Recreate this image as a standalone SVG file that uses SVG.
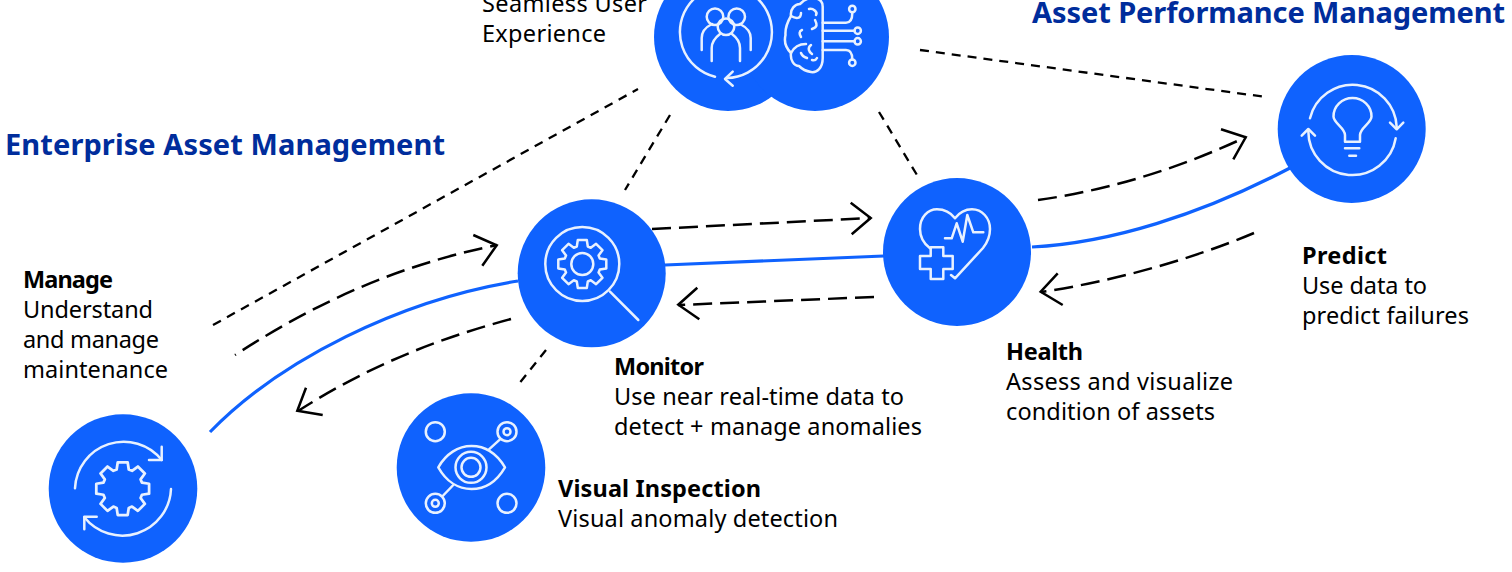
<svg xmlns="http://www.w3.org/2000/svg" xmlns:xlink="http://www.w3.org/1999/xlink" width="1512" height="572" viewBox="0 0 1512 572">
<style>
text{font-family:"Noto Sans","Open Sans",sans-serif;font-size:23.5px;fill:#000}
.b{font-weight:700}
.t{font-weight:700;font-size:29px;fill:#002d9c}
.disc{fill:#0f62fe}
.ic{fill:none;stroke:#e8f1ff;stroke-width:2.5;stroke-linecap:round;stroke-linejoin:round}
.ic use,.ic path,.ic circle,.ic line{vector-effect:non-scaling-stroke}
.flow{fill:none;stroke:#0f62fe;stroke-width:3.2}
.thin{fill:none;stroke:#000;stroke-width:2.3;stroke-dasharray:9 7}
.dash{fill:none;stroke:#000;stroke-width:2.5;stroke-dasharray:19 8}
.head{fill:none;stroke:#000;stroke-width:2.5}
</style>
<defs>
<path id="gear" d="M-4.5,-24L4.5,-24L5.5,-17.5L8.49,-16.26L13.79,-20.15L20.15,-13.79L16.26,-8.49L17.5,-5.5L24,-4.5L24,4.5L17.5,5.5L16.26,8.49L20.15,13.79L13.79,20.15L8.49,16.26L5.5,17.5L4.5,24L-4.5,24L-5.5,17.5L-8.49,16.26L-13.79,20.15L-20.15,13.79L-16.26,8.49L-17.5,5.5L-24,4.5L-24,-4.5L-17.5,-5.5L-16.26,-8.49L-20.15,-13.79L-13.79,-20.15L-8.49,-16.26L-5.5,-17.5Z"/>
</defs>
<rect width="1512" height="572" fill="#fff"/>
<g id="connectors">
<path class="flow" d="M210,432C280,360 400,300 518,281"/>
<path class="flow" d="M665,265L884,256"/>
<path class="flow" d="M1032,247C1110,243 1200,215 1290,168"/>
<path class="thin" d="M213,325L638,89"/>
<path class="thin" d="M670,115L625,190"/>
<path class="thin" d="M879,112L917,175"/>
<path class="thin" d="M920,50L1266,97"/>
<path class="thin" d="M546,350L518,385"/>
<path class="dash" stroke-dashoffset="18" d="M235,355C320,300 400,265 497,245"/>
<path class="head" d="M473.3,235L496.7,245.3L482.3,265.7"/>
<path class="dash" d="M511,319C440,338 370,365 298,411"/>
<path class="head" d="M306,387.7L297.3,410.7L322.7,415"/>
<path class="dash" d="M652,229L871,218"/>
<path class="head" d="M850.7,202.7L870.7,218L851.7,234.3"/>
<path class="dash" d="M874,297L678,305"/>
<path class="head" d="M697.3,287.7L678.3,304.7L699.3,319.3"/>
<path class="dash" d="M1038,200C1110,190 1180,168 1246,137"/>
<path class="head" d="M1221,129.3L1245.7,137.3L1233.3,159.3"/>
<path class="dash" d="M1254,233C1190,260 1110,282 1041,292"/>
<path class="head" d="M1057.7,273.3L1040.7,291.7L1062.7,305"/>
</g>
<g id="title-eam"><text class="t" x="5" y="155" textLength="440">Enterprise Asset Management</text></g>
<g id="title-apm"><text class="t" x="1032" y="23" textLength="473">Asset Performance Management</text></g>
<g id="node-experience">
<circle class="disc" cx="728" cy="37" r="74"/>
<circle class="disc" cx="815" cy="37" r="74"/>
<g class="ic">
<path d="M715,76.7A46,46 0 1 1 727,78"/>
<path d="M732.7,71.7L725,79L732.7,85.7"/>
<circle cx="726" cy="26.7" r="8.3"/>
<circle cx="715" cy="16.7" r="8.3"/>
<circle cx="736.7" cy="16.7" r="8.3"/>
<path d="M711.7,61V48C711.7,41 716,37 720,34M740,61V48C740,41 736,37 732,34"/>
<path d="M701.7,50V38C701.7,32 706,27 712,24M750.7,50V38C750.7,32 746,27 740,24"/>
<path d="M822.7,6.7V58C822.7,68 817,73 811,72C805,71 802,69 799,66C794,66 790,60 791,53C786,48 784,41 785.5,35C785,28 788,21 791,16C790,9 795,4 800,4C804,0 808,-2 812,-2C818,-2 822.7,0 822.7,6.7"/>
<path d="M791,53C794,47 800,44 806,44M791,16C796,19 801,19 801,13"/>
<path d="M809,9C813,8 818,12 816,15M815,20C817,24 818,27 812,29M802,30C799,31 799,34 801,37M811,45C807,48 809,52 812,54M801,53C802,56 804,57 807,58M812,60C815,61 816,60 817,58"/>
<path d="M822.7,22.7H846C850,22.7 852.3,20 852.3,13"/>
<path d="M822.7,30.7H854.7M822.7,41.3H854.7"/>
<path d="M822.7,50H846C850,50 852.3,53 852.3,59.5"/>
<circle cx="852.3" cy="9" r="3.2"/><circle cx="857.7" cy="30.7" r="3.2"/><circle cx="857.7" cy="41.3" r="3.2"/><circle cx="852.3" cy="62.7" r="3.2"/>
</g>
<text x="482" y="12" textLength="165">Seamless User</text>
<text x="482" y="42" textLength="124">Experience</text>
</g>
<g id="node-predict">
<circle class="disc" cx="1351.7" cy="129" r="74"/>
<g class="ic">
<path d="M1310,118.3A44,44 0 0 1 1396.7,127"/>
<path d="M1390,122.7L1396.7,129.3L1403.3,122.7"/>
<path d="M1395.7,138.3A44,44 0 0 1 1308.3,131"/>
<path d="M1301.7,135.7L1308.3,129L1315,135.7"/>
<path d="M1345,141.7V135C1345,128 1333.5,123 1333.5,116.5A19,18.5 0 0 1 1371.5,116.5C1371.5,123 1360,128 1360,135V141.7Z"/>
<path d="M1345,148.3H1359.3M1349.3,155.7H1356"/>
</g>
<text class="b" x="1302" y="264" textLength="85">Predict</text>
<text x="1302" y="294" textLength="125">Use data to</text>
<text x="1302" y="324" textLength="167">predict failures</text>
</g>
<g id="node-health">
<circle class="disc" cx="957" cy="252" r="74"/>
<g class="ic">
<path d="M930,248.3C923,243 920,237 920,229C920,217 928,209.3 937,209.3C945,209.3 951,213 955,218.3C959,213 965,209.3 972,209.3C982,209.3 990,218 990,229C990,237 987,243 983,248L955,278.3L951,275"/>
<path d="M930.7,247.3H943.3V256H952.7V269H943.3V279H930.7V269H920V256H930.7Z"/>
<path d="M945,238.3H951.7L956.7,223.3L962.7,241.7L967.3,215L973.3,232.3H983.3"/>
</g>
<text class="b" x="1006" y="360" textLength="77">Health</text>
<text x="1006" y="390" textLength="227">Assess and visualize</text>
<text x="1006" y="420" textLength="209">condition of assets</text>
</g>
<g id="node-monitor">
<circle class="disc" cx="591.7" cy="273.3" r="74"/>
<g class="ic">
<circle cx="582.3" cy="264" r="37"/>
<line x1="610" y1="291.7" x2="638.3" y2="320"/>
<use href="#gear" x="582.3" y="264"/>
<circle cx="582.3" cy="264" r="11"/>
</g>
<text class="b" x="614" y="375" textLength="90">Monitor</text>
<text x="614" y="405" textLength="290">Use near real-time data to</text>
<text x="614" y="435" textLength="308">detect + manage anomalies</text>
</g>
<g id="node-visual">
<circle class="disc" cx="471" cy="467.5" r="74.3"/>
<g class="ic">
<path d="M438.3,467.3C446,454 458,446 471.5,446C485,446 497,454 505,467.3C497,481 485,489 471.5,489C458,489 446,481 438.3,467.3Z"/>
<circle cx="471" cy="467.3" r="15.5"/><circle cx="471" cy="467.3" r="9.5"/>
<circle cx="435.3" cy="431.7" r="9.5"/>
<circle cx="507" cy="431.7" r="9.5"/><circle cx="507" cy="431.7" r="3.5"/>
<circle cx="435.3" cy="503.3" r="9.5"/><circle cx="435.3" cy="503.3" r="3.5"/>
<circle cx="507" cy="503.3" r="9.5"/>
<path d="M489,449.3L500,439.3M442.7,496L453.3,485"/>
</g>
<text class="b" x="558" y="497" textLength="203">Visual Inspection</text>
<text x="558" y="527" textLength="280">Visual anomaly detection</text>
</g>
<g id="node-manage">
<circle class="disc" cx="123" cy="488.5" r="74.3"/>
<g class="ic">
<path d="M75,488.3A48.7,48.7 0 0 1 161.7,460"/>
<path d="M161.7,446.7V460H149"/>
<path d="M171,489A48.7,48.7 0 0 1 84.3,517.3"/>
<path d="M96.7,516.7H84.3V529.3"/>
<use href="#gear" transform="translate(122.7 488.7) scale(1.1)"/>
</g>
<text class="b" x="23" y="288" textLength="90">Manage</text>
<text x="23" y="318" textLength="130">Understand</text>
<text x="23" y="348" textLength="136">and manage</text>
<text x="23" y="378" textLength="145">maintenance</text>
</g>
</svg>
